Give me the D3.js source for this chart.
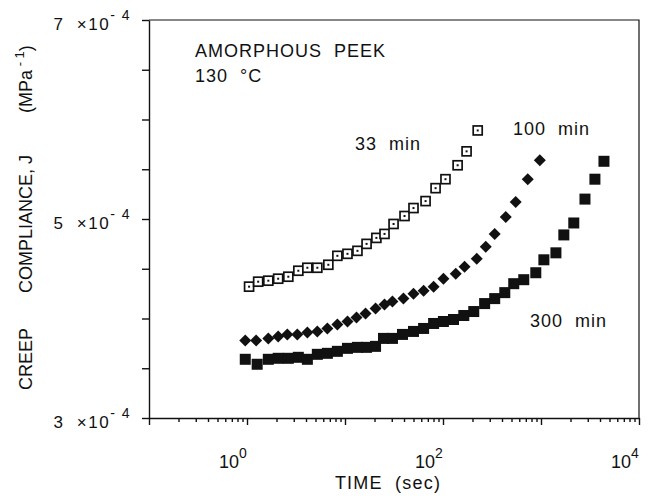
<!DOCTYPE html>
<html>
<head>
<meta charset="utf-8">
<script src="https://cdn.jsdelivr.net/npm/d3@7"></script>
<style>
body { margin: 0; background: #fff; }
svg text { font-family: "Liberation Sans", Arial, sans-serif; fill: #111; }
</style>
</head>
<body>
<div class="graphic"></div>
<script>
// creep compliance J (units of 1e-4 MPa^-1) vs time (sec), amorphous PEEK at 130 C
var t33 = [1.05, 1.30, 1.65, 2.08, 2.64, 3.34, 4.13, 5.22, 6.76, 8.36, 10.6, 13.4, 16.6, 20.9, 25.3, 31.3, 40.5, 50.0, 66.4, 84.0, 106, 141, 174, 226];
var j33 = [4.32, 4.37, 4.38, 4.40, 4.42, 4.48, 4.51, 4.51, 4.54, 4.63, 4.65, 4.68, 4.75, 4.81, 4.85, 4.95, 5.03, 5.11, 5.18, 5.31, 5.40, 5.54, 5.68, 5.89];

var t100 = [0.96, 1.24, 1.65, 2.08, 2.58, 3.26, 4.13, 5.22, 6.61, 8.36, 10.6, 13.1, 16.2, 20.5, 25.3, 30.5, 39.5, 50.0, 63.4, 80.2, 101, 135, 166, 221, 273, 337, 437, 552, 733, 973];
var j100 = [3.78, 3.78, 3.80, 3.82, 3.84, 3.84, 3.86, 3.87, 3.90, 3.94, 3.97, 4.01, 4.05, 4.10, 4.14, 4.17, 4.20, 4.25, 4.28, 4.32, 4.40, 4.45, 4.52, 4.60, 4.72, 4.85, 5.02, 5.17, 5.40, 5.59];

var t300 = [0.96, 1.27, 1.65, 2.08, 2.64, 3.34, 4.13, 5.22, 6.61, 8.36, 10.6, 13.4, 16.6, 20.5, 24.7, 30.5, 38.6, 50.0, 63.4, 80.2, 101, 128, 163, 206, 266, 337, 427, 527, 667, 885, 1070, 1420, 1710, 2160, 2810, 3550, 4390];
var j300 = [3.59, 3.54, 3.59, 3.60, 3.60, 3.61, 3.59, 3.64, 3.65, 3.67, 3.70, 3.71, 3.71, 3.72, 3.80, 3.80, 3.84, 3.87, 3.90, 3.95, 3.97, 3.99, 4.03, 4.07, 4.15, 4.20, 4.26, 4.35, 4.39, 4.46, 4.59, 4.66, 4.84, 4.96, 5.20, 5.40, 5.58];

var xDecades = [0.1, 1, 10, 100, 1000, 10000];
var xLabels = [{v: 1, e: "0"}, {v: 100, e: "2"}, {v: 10000, e: "4"}];
var yTicks = [3, 3.5, 4, 4.5, 5, 5.5, 6, 6.5, 7];
var yLabels = [{v: 3, m: "3"}, {v: 5, m: "5"}, {v: 7, m: "7"}];

var W = 648, H = 497;
var margin = {left: 149, right: 639, top: 20, bottom: 418};

var svg = d3.select(".graphic").append("svg")
    .attr("width", W)
    .attr("height", H);

var x = d3.scaleLog().domain([0.1, 10000]).range([margin.left, margin.right]);
var y = d3.scaleLinear().domain([3, 7]).range([margin.bottom, margin.top]);

// minor x ticks (2..9 of each decade)
var minor = [];
xDecades.slice(0, -1).forEach(function(d) {
    for (var k = 2; k <= 9; k++) minor.push(d * k);
});

svg.append("g")
    .attr("transform", "translate(0," + margin.bottom + ")")
    .call(d3.axisBottom(x).tickValues(minor).tickSize(4).tickSizeOuter(0).tickFormat(""))
    .call(function(g) { g.select(".domain").remove(); });

svg.append("g")
    .attr("transform", "translate(0," + margin.bottom + ")")
    .call(d3.axisBottom(x).tickValues(xDecades).tickSize(7).tickSizeOuter(0).tickFormat(""));

svg.append("g")
    .attr("transform", "translate(" + margin.left + ",0)")
    .call(d3.axisLeft(y).tickValues(yTicks).tickSize(7).tickSizeOuter(0).tickFormat(""));

svg.selectAll(".domain, .tick line").attr("stroke", "#111").attr("stroke-width", 1.4);

// frame top and right
svg.append("path")
    .attr("d", "M" + margin.left + "," + margin.top + "H" + margin.right + "V" + margin.bottom)
    .attr("fill", "none")
    .attr("stroke", "#111")
    .attr("stroke-width", 1.2);

// x tick labels 10^n
var xl = svg.selectAll(".xl").data(xLabels).enter().append("text")
    .attr("class", "xl")
    .attr("x", function(d) { return x(d.v) - 14; })
    .attr("y", 468)
    .attr("text-anchor", "middle")
    .style("font-size", "18px");
xl.append("tspan").text("10");
xl.append("tspan").attr("dy", -10).style("font-size", "14px").text(function(d) { return d.e; });

// y tick labels  n x10^-4
var yl = svg.selectAll(".yl").data(yLabels).enter().append("text")
    .attr("class", "yl")
    .attr("x", 131)
    .attr("y", function(d) { return y(d.v) + 10; })
    .attr("text-anchor", "end")
    .style("font-size", "17px")
    .style("letter-spacing", "1.5px")
    .style("white-space", "pre");
yl.append("tspan").text(function(d) { return d.m + "  \u00d710"; });
yl.append("tspan").attr("dy", -10).style("font-size", "14px").text("\u2010 4");

// axis titles
svg.append("text")
    .attr("x", 388).attr("y", 489)
    .attr("text-anchor", "middle")
    .style("font-size", "18px")
    .style("letter-spacing", "1.2px")
    .style("white-space", "pre")
    .text("TIME  (sec)");

function yTitle(yy, txt) {
    return svg.append("text")
        .attr("transform", "translate(32," + yy + ") rotate(-90)")
        .style("font-size", "18px")
        .style("white-space", "pre")
        .text(txt);
}
yTitle(390, "CREEP");
yTitle(293, "COMPLIANCE, J");
var mpa = yTitle(113, "(MPa");
mpa.append("tspan").attr("dy", -8).style("font-size", "13px").text(" \u2010 1");
mpa.append("tspan").attr("dy", 8).text(")");

// annotations
var notes = [
    {x: 195, y: 57, t: "AMORPHOUS  PEEK"},
    {x: 195, y: 82, t: "130  \u00b0C"},
    {x: 355, y: 150, t: "33  min"},
    {x: 513, y: 135, t: "100  min"},
    {x: 530, y: 327, t: "300  min"}
];
svg.selectAll(".note").data(notes).enter().append("text")
    .attr("class", "note")
    .attr("x", function(d) { return d.x; })
    .attr("y", function(d) { return d.y; })
    .style("font-size", "18px")
    .style("letter-spacing", "1px")
    .style("white-space", "pre")
    .text(function(d) { return d.t; });

// 33 min: open squares with center dot
var d33 = t33.map(function(t, i) { return [t, j33[i]]; });
var g33 = svg.selectAll(".p33").data(d33).enter().append("g")
    .attr("class", "p33")
    .attr("transform", function(d) { return "translate(" + x(d[0]) + "," + y(d[1]) + ")"; });
g33.append("rect")
    .attr("x", -4.5).attr("y", -4.5).attr("width", 9).attr("height", 9)
    .attr("fill", "#fff").attr("stroke", "#111").attr("stroke-width", 1.7);
g33.append("rect")
    .attr("x", -1).attr("y", -1).attr("width", 2).attr("height", 2)
    .attr("fill", "#111");

// 100 min: filled diamonds
var d100 = t100.map(function(t, i) { return [t, j100[i]]; });
svg.selectAll(".p100").data(d100).enter().append("path")
    .attr("class", "p100")
    .attr("d", "M0,-6L6,0L0,6L-6,0Z")
    .attr("fill", "#111")
    .attr("transform", function(d) { return "translate(" + x(d[0]) + "," + y(d[1]) + ")"; });

// 300 min: filled squares
var d300 = t300.map(function(t, i) { return [t, j300[i]]; });
svg.selectAll(".p300").data(d300).enter().append("rect")
    .attr("class", "p300")
    .attr("x", function(d) { return x(d[0]) - 5.5; })
    .attr("y", function(d) { return y(d[1]) - 5.5; })
    .attr("width", 11).attr("height", 11)
    .attr("fill", "#111");
</script>
</body>
</html>
